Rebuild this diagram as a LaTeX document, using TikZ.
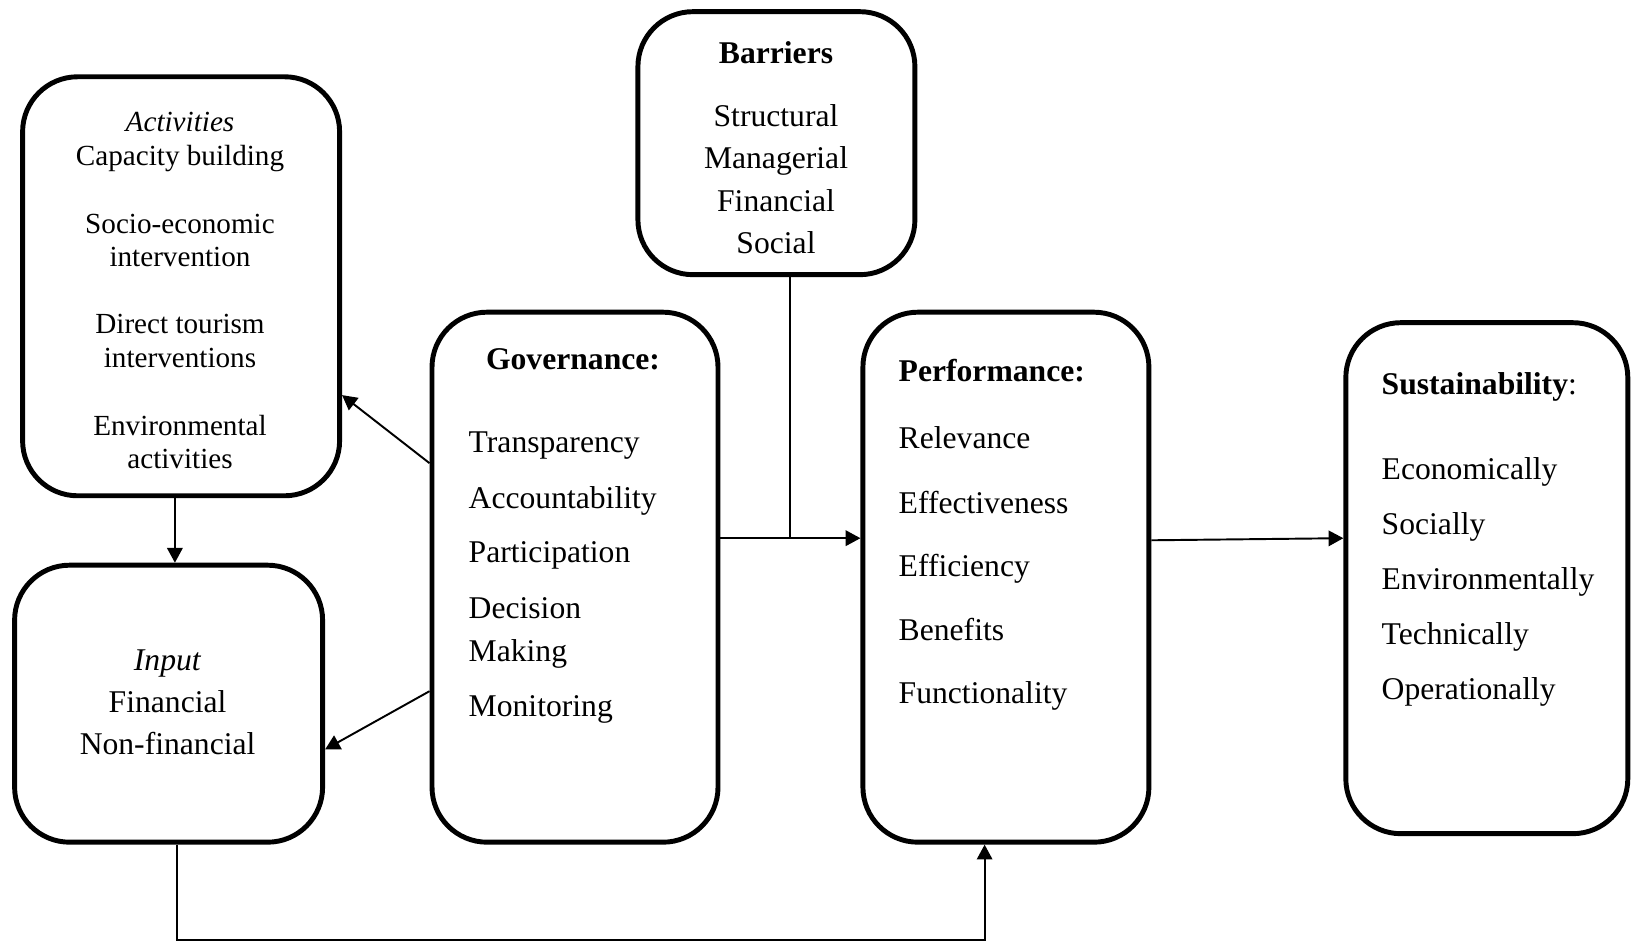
\documentclass[tikz,border=0pt]{standalone}
\usepackage{fontspec}
\setmainfont{Liberation Serif}
\usetikzlibrary{arrows.meta}

\begin{document}
\begin{tikzpicture}[
    box/.style={rectangle, rounded corners=0.55cm, draw, line width=1.4pt, inner sep=0pt},
    item/.style={inner sep=0pt, text height=0.66em, text depth=0pt, yshift=0.015cm, font=\fontsize{9}{11}\selectfont},
    actitem/.style={item, font=\fontsize{8.3}{10}\selectfont},
    link/.style={-{Triangle[length=4.2pt,width=4.4pt]}, line width=0.55pt},
    ]
    \useasboundingbox (0,0) rectangle (16.32,9.42);

    \node[box, minimum width=3.17cm, minimum height=4.19cm] (act) at (1.811,6.557) {};
    \node[box, minimum width=3.08cm, minimum height=2.77cm] (inp) at (1.686,2.383) {};
    \node[box, minimum width=2.86cm, minimum height=5.30cm] (gov) at (5.750,3.648) {};
    \node[box, minimum width=2.77cm, minimum height=2.63cm] (bar) at (7.764,7.988) {};
    \node[box, minimum width=2.86cm, minimum height=5.30cm] (perf) at (10.059,3.648) {};
    \node[box, minimum width=2.82cm, minimum height=5.11cm] (sus) at (14.868,3.638) {};

    % box contents
    \foreach \t/\y [count=\i] in {\textit{Activities}/8.21, Capacity building/7.87,
        Socio-economic/7.19, intervention/6.86, Direct tourism/6.19,
        interventions/5.85, Environmental/5.17, activities/4.84}
        \node[actitem] (act-\i) at (1.80,\y) {\t};

    \foreach \t/\y [count=\i] in {\textit{Input}/2.82, Financial/2.40, Non-financial/1.98}
        \node[item] (inp-\i) at (1.676,\y) {\t};

    \foreach \t/\y [count=\i] in {\textbf{Barriers}/8.89, Structural/8.26,
        Managerial/7.84, Financial/7.41, Social/6.99}
        \node[item] (bar-\i) at (7.76,\y) {\t};

    \node[item] (gov-0) at (5.73,5.83) {\textbf{Governance:}};
    \foreach \t/\y [count=\i] in {Transparency/5.00, Accountability/4.44,
        Participation/3.90, Decision/3.34, Making/2.91, Monitoring/2.36}
        \node[item, anchor=west] (gov-\i) at (4.68,\y) {\t};

    \node[item, anchor=west] (perf-0) at (8.98,5.71) {\textbf{Performance:}};
    \foreach \t/\y [count=\i] in {Relevance/5.04, Effectiveness/4.39,
        Efficiency/3.76, Benefits/3.12, Functionality/2.49}
        \node[item, anchor=west] (perf-\i) at (8.98,\y) {\t};

    \node[item, anchor=west] (sus-0) at (13.81,5.58) {\textbf{Sustainability}:};
    \foreach \t/\y [count=\i] in {Economically/4.73, Socially/4.18,
        Environmentally/3.63, Technically/3.08, Operationally/2.53}
        \node[item, anchor=west] (sus-\i) at (13.81,\y) {\t};

    % links between boxes
    \coordinate (actdrop) at ([xshift=-0.062cm]act.south);
    \coordinate (govout) at ([yshift=0.39cm]gov.east);
    \coordinate (bardrop) at ([xshift=0.136cm]bar.south);
    \coordinate (inpdrop) at ([xshift=0.083cm]inp.south);
    \coordinate (perfin) at ([xshift=-0.213cm]perf.south);

    \draw[link] ([yshift=1.14cm]gov.west) -- ([yshift=-1.088cm]act.east);
    \draw[link] ([yshift=-1.14cm]gov.west) -- ([yshift=-0.458cm]inp.east);
    \draw[link] (actdrop) -- (actdrop |- inp.north);
    \draw[link] (govout) -- (govout -| perf.west);
    \draw[line width=0.4pt] (bardrop) -- (bardrop |- govout);
    \draw[link] ([yshift=0.369cm]perf.east) -- ([yshift=0.40cm]sus.west);
    \draw[link, line width=0.5pt] (inpdrop) -- ++(0,-0.95) -| (perfin);
\end{tikzpicture}
\end{document}
